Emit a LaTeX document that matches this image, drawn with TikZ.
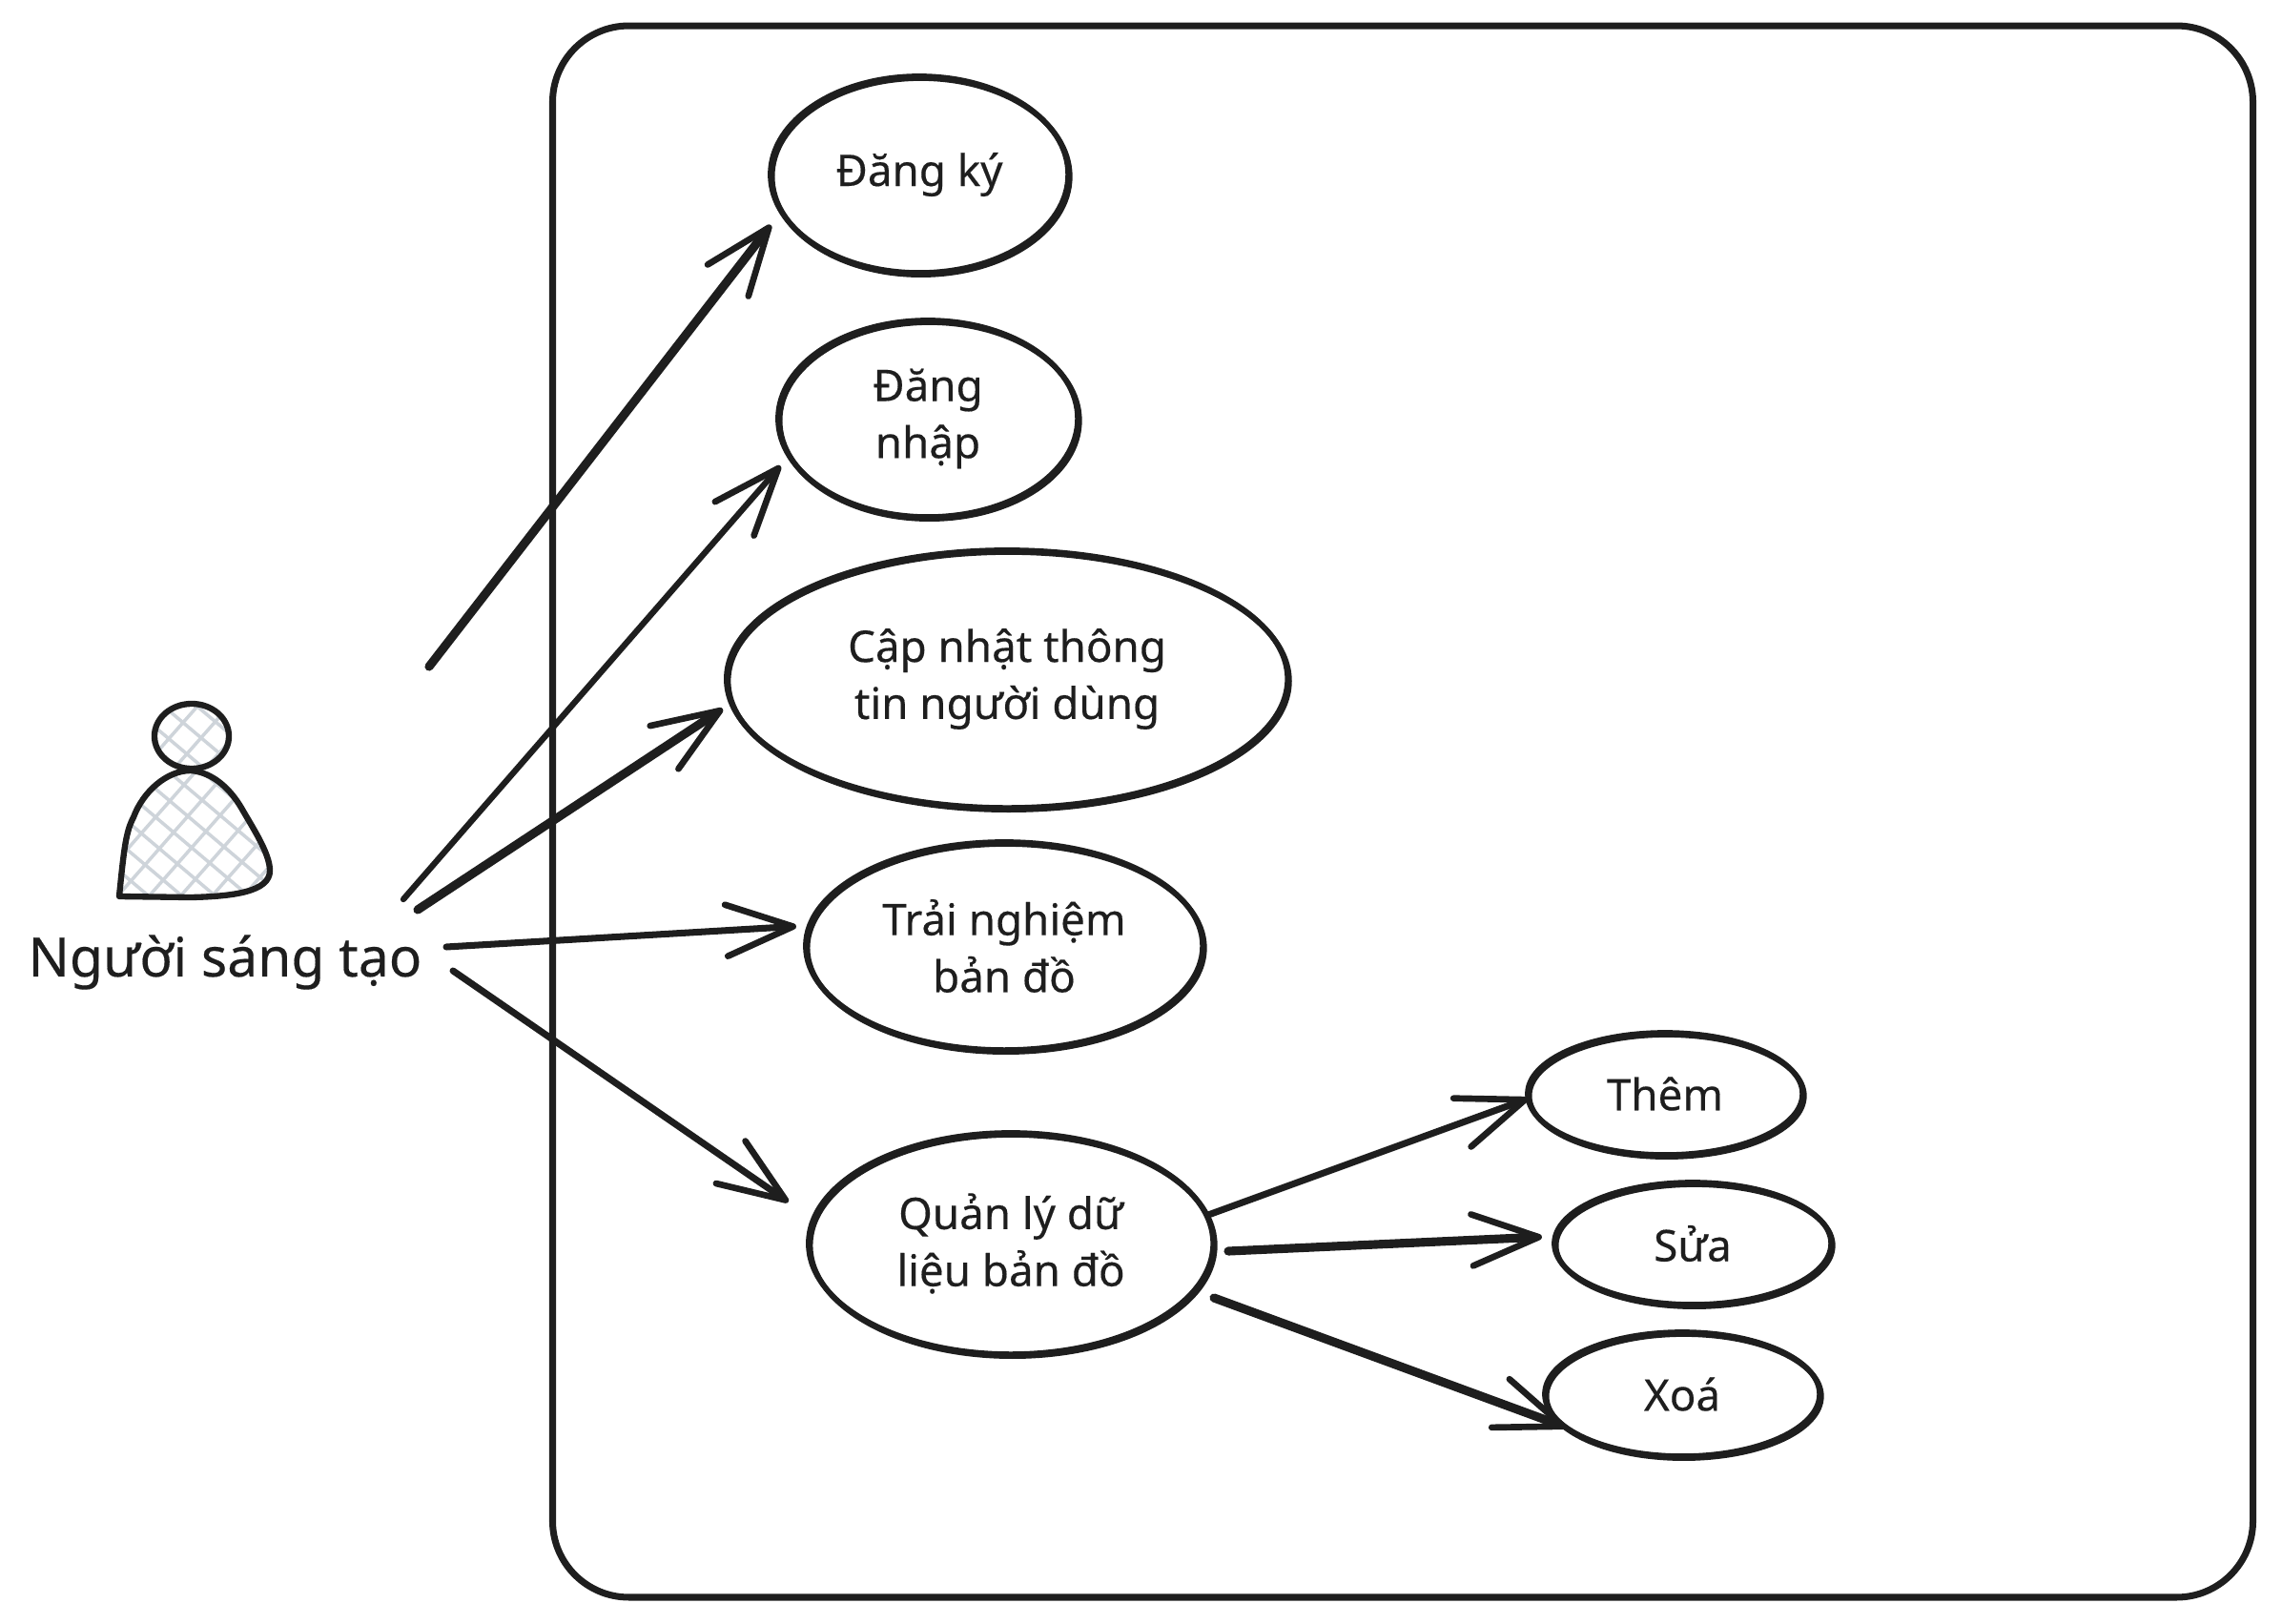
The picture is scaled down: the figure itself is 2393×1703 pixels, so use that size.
\documentclass[tikz,border=0pt]{standalone}
\usepackage{fontspec}
\setmainfont{Noto Sans}[FakeBold=0.3]
\usepackage{xcolor}
\usetikzlibrary{arrows.meta,shapes.geometric}
\definecolor{ink}{HTML}{1E1E1E}
\definecolor{hatch}{HTML}{CED4DA}
\newcommand{\bodypath}{(125,940) .. controls (130,890) and (132,872) .. (140,857)
      .. controls (150,830) and (175,808) .. (200,808)
      .. controls (225,810) and (243,830) .. (253,847)
      .. controls (265,868) and (283,895) .. (283,913)
      .. controls (283,935) and (245,940) .. (200,941) -- cycle}

\begin{document}
\begin{tikzpicture}[x=0.01cm,y=-0.01cm,->,>={Straight Barb[length=0.7cm,width=0.54cm,round,line width=1.9pt]},
                color=ink,line width=1.8pt,line cap=round,line join=round,
                usecase/.style={ellipse,draw,inner sep=0pt,outer sep=0pt,align=center,line width=1.6pt,
                  font=\fontsize{13}{17}\selectfont,
                  preaction={draw,transform canvas={xshift=0.5pt,yshift=-0.6pt}}},
                thin edge/.style={line width=1.8pt},
                mid edge/.style={line width=2pt},
                bold edge/.style={line width=2.6pt}]
  \useasboundingbox (0,0) rectangle (2393,1703);

  \node[draw,line width=2pt,rounded corners=0.8cm,outer sep=0pt,minimum width=17.82cm,minimum height=16.47cm] (system) at (1471,851) {};

  % actor
  \begin{scope}[-]
    \clip \bodypath;
    \foreach \k in {-16,...,16} {
      \draw[hatch,line width=1pt] (200+\k*35,740) -- ++(260,220);
      \draw[hatch,line width=1pt] (200+\k*33,740) -- ++(-220,250);
    }
  \end{scope}
  \begin{scope}[-]
    \clip (202,773) ellipse (40 and 35);
    \foreach \k in {-6,...,6} {
      \draw[hatch,line width=1pt] (200+\k*35,735) -- ++(160,135);
      \draw[hatch,line width=1pt] (212+\k*33,735) -- ++(-120,136);
    }
  \end{scope}
  \node[draw,ellipse,inner sep=0pt,outer sep=0pt,minimum width=0.78cm,minimum height=0.68cm] (head) at (201,772) {};
  \draw[-] \bodypath;
  \node[font=\fontsize{16.2}{20}\selectfont] (actor) at (236,1009) {Người sáng tạo};

  \node[usecase,minimum width=3.12cm,minimum height=2.06cm] (dangky) at (964,183) {Đăng ký};
  \node[usecase,minimum width=3.14cm,minimum height=2.06cm] (dangnhap) at (973,439) {Đăng\\nhập};
  \node[usecase,minimum width=5.88cm,minimum height=2.70cm] (capnhat) at (1056,712) {Cập nhật thông\\tin người dùng};
  \node[usecase,minimum width=4.16cm,minimum height=2.18cm] (trainghiem) at (1053,992) {Trải nghiệm\\bản đồ};
  \node[usecase,minimum width=4.24cm,minimum height=2.32cm] (quanly) at (1060,1304) {Quản lý dữ\\liệu bản đồ};
  \node[usecase,minimum width=2.88cm,minimum height=1.28cm] (them) at (1746,1147) {Thêm};
  \node[usecase,minimum width=2.9cm,minimum height=1.28cm] (sua) at (1775,1304) {Sửa};
  \node[usecase,minimum width=2.88cm,minimum height=1.30cm] (xoa) at (1764,1462) {Xoá};

  \coordinate (a1) at (450,699);
  \coordinate (a2) at (423,943);
  \coordinate (a3) at (438,954);
  \coordinate (a4) at (468,993);
  \coordinate (a5) at (475,1018);
  \coordinate (q1) at (1267,1274);
  \coordinate (q2) at (1288,1312);
  \coordinate (q3) at (1273,1361);

  \path
    (a1) edge [bold edge,shorten >=0.18cm] (dangky.195)
    (a2) edge [thin edge,shorten >=0.14cm] (dangnhap.195)
    (a3) edge [bold edge,shorten >=0.11cm] (capnhat.185)
    (a4) edge [mid edge,shorten >=0.14cm] (trainghiem.174)
    (a5) edge [mid edge,shorten >=0.32cm] (quanly.173)
    (q1) edge [mid edge] (them.182)
    (q2) edge [bold edge,shorten >=0.14cm] (sua.177)
    (q3) edge [bold edge] (xoa.196);
\end{tikzpicture}
\end{document}
